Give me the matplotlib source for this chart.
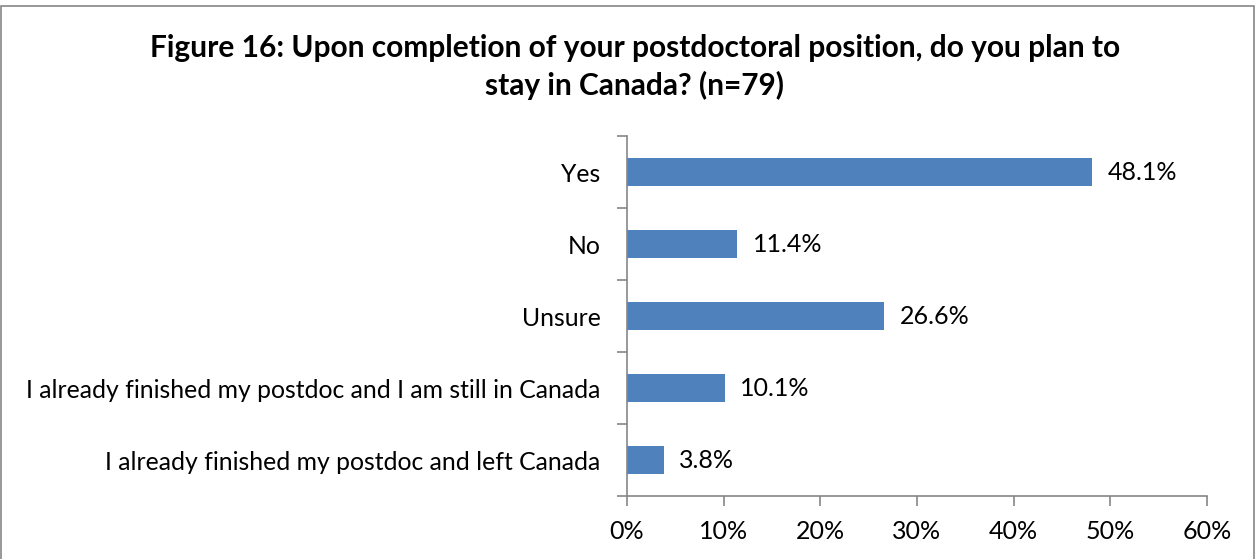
import matplotlib.pyplot as plt
from matplotlib.patches import Rectangle
from matplotlib.ticker import FuncFormatter, MultipleLocator

categories = [
    "Yes",
    "No",
    "Unsure",
    "I already finished my postdoc and I am still in Canada",
    "I already finished my postdoc and left Canada",
]
values = [48.1, 11.4, 26.6, 10.1, 3.8]
title = "Figure 16: Upon completion of your postdoctoral position, do you plan to\nstay in Canada? (n=79)"

plt.rcParams['font.family'] = ['Lato', 'DejaVu Sans']

fig = plt.figure(figsize=(12.57, 5.59), dpi=100)
ax = fig.add_axes([627 / 1257, 1 - 496 / 559, 580 / 1257, 360 / 559])

ypos = list(range(len(categories)))
ax.barh(ypos, values, height=0.4, color='#4F81BD', zorder=2)
for y, v in zip(ypos, values):
    ax.text(v + 1.6, y, f"{v:.1f}%", va='center', ha='left', fontsize=18)

ax.set_xlim(0, 60)
ax.set_ylim(len(categories) - 0.5, -0.5)
ax.xaxis.set_major_locator(MultipleLocator(10))
ax.xaxis.set_major_formatter(FuncFormatter(lambda x, p: f"{x:.0f}%"))
ax.set_yticks(ypos)
ax.set_yticklabels(categories)
ax.set_yticks([i - 0.5 for i in range(len(categories) + 1)], minor=True)
ax.tick_params(axis='y', which='major', length=0, pad=19, labelsize=17.8)
ax.tick_params(axis='y', which='minor', length=7, width=1.2, color='#868686', direction='out')
ax.tick_params(axis='x', length=7, width=1.2, color='#868686', direction='out', labelsize=18, pad=10)

for s in ['top', 'right']:
    ax.spines[s].set_visible(False)
for s in ['left', 'bottom']:
    ax.spines[s].set_color('#868686')
    ax.spines[s].set_linewidth(1.2)

fig.text(0.505, 1 - 67 / 559, title, ha='center', va='center',
         fontsize=21.5, fontweight='bold', linespacing=1.35)

fig.patches.append(Rectangle((1 / 1257, -0.01), 1253 / 1257, 1.0, transform=fig.transFigure,
                             fill=False, edgecolor='#868686', linewidth=1.2))

fig.savefig('out.png', dpi=100)
